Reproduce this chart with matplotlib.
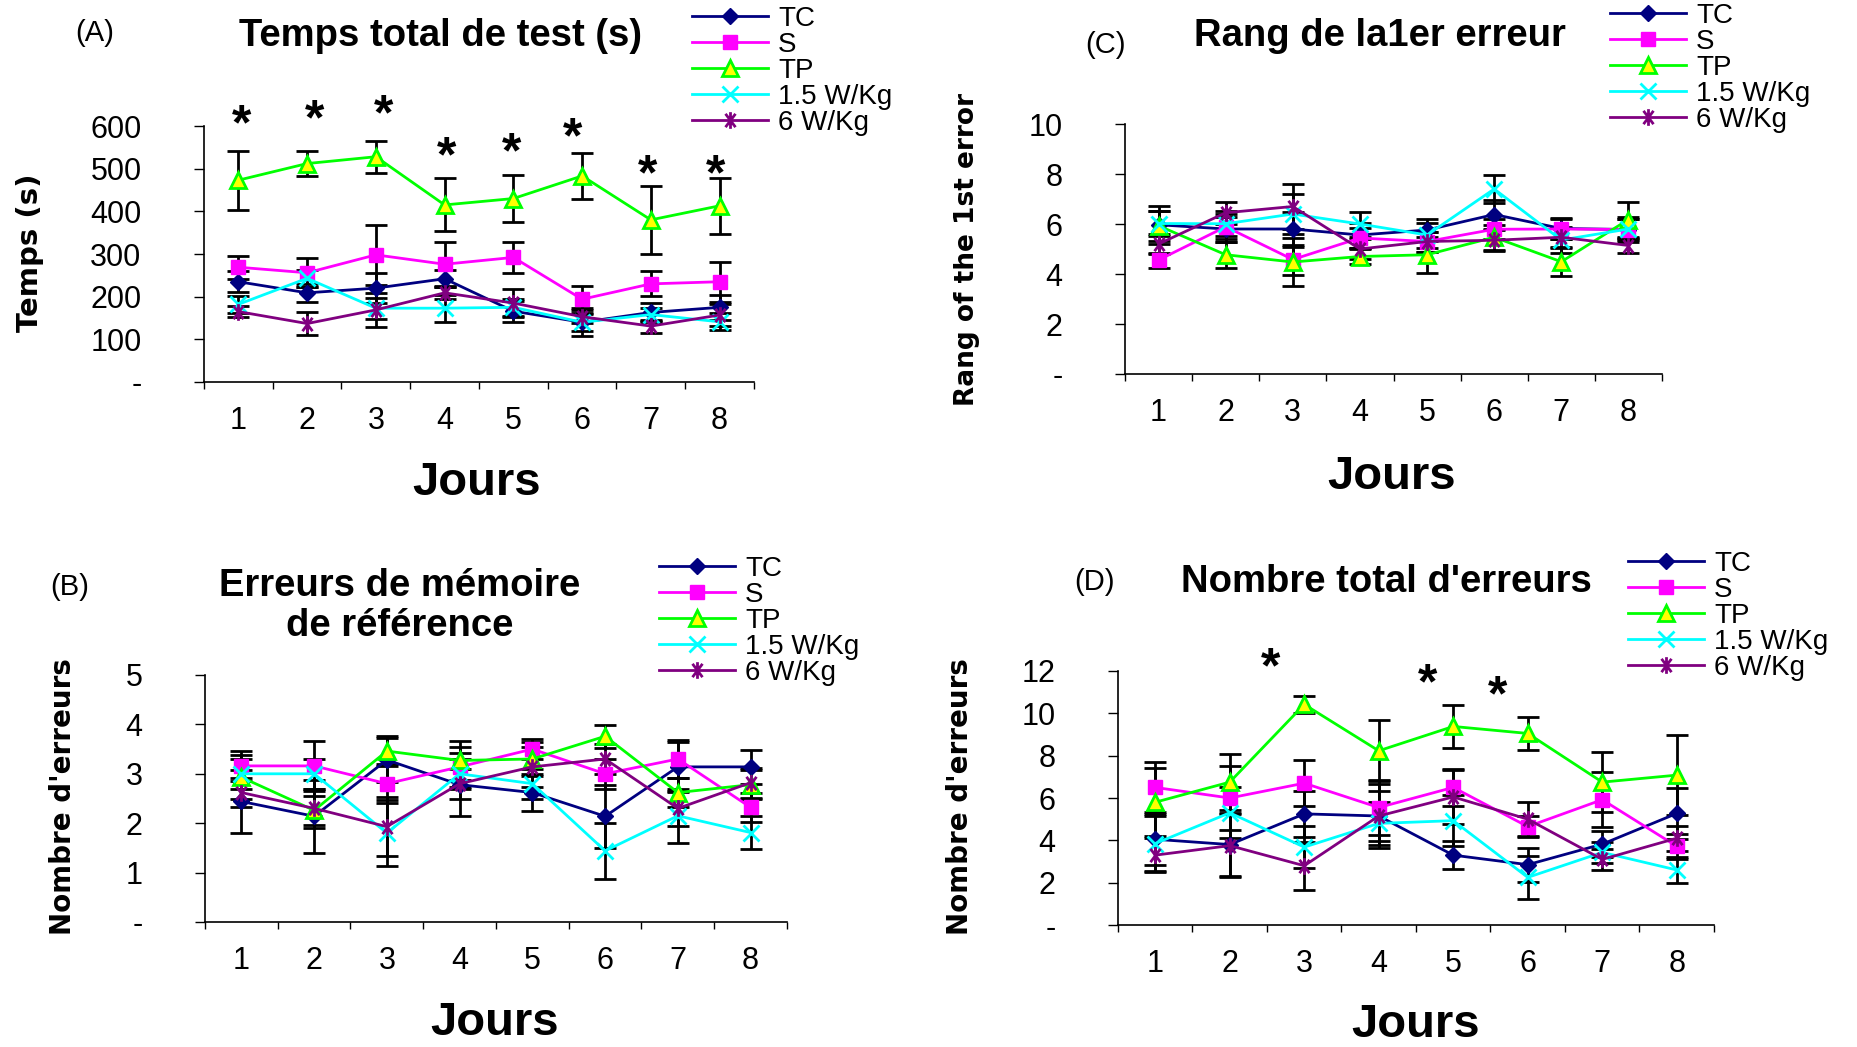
import numpy as np
import matplotlib.pyplot as plt
from matplotlib.path import Path
from matplotlib.ticker import FixedLocator, FuncFormatter

W, H = 1858, 1047

days = [1, 2, 3, 4, 5, 6, 7, 8]
groups = ['TC', 'S', 'TP', '1.5 W/Kg', '6 W/Kg']

# (A) Temps total de test (s) -- rows follow `groups`
temps_mean = [
    [235, 209, 220, 242, 166, 140, 163, 175],
    [269, 256, 298, 276, 292, 194, 230, 235],
    [473, 512, 528, 415, 430, 483, 380, 413],
    [182, 243, 173, 173, 175, 140, 158, 141],
    [165, 137, 169, 209, 185, 153, 131, 157],
]
temps_err = [
    [25, 21, 35, 20, 25, 33, 23, 30],
    [27, 34, 70, 53, 37, 32, 29, 47],
    [69, 30, 37, 62, 54, 53, 80, 66],
    [20, 20, 25, 32, 20, 20, 15, 20],
    [12, 28, 39, 15, 32, 15, 15, 25],
]
temps_star_x = [1.05, 2.11, 3.11, 4.03, 4.98, 5.86, 6.95, 7.94]
temps_star_y = [637, 649, 661, 562, 572, 607, 520, 520]

# (B) Erreurs de memoire de reference
memref_mean = [
    [2.44, 2.14, 3.28, 2.78, 2.62, 2.14, 3.14, 3.14],
    [3.16, 3.16, 2.80, 3.14, 3.50, 3.00, 3.30, 2.32],
    [2.93, 2.26, 3.46, 3.27, 3.30, 3.76, 2.62, 2.78],
    [3.00, 3.00, 1.80, 3.00, 2.80, 1.44, 2.15, 1.81],
    [2.62, 2.30, 1.93, 2.80, 3.14, 3.30, 2.30, 2.82],
]
memref_err = [
    [0.64, 0.74, 0.45, 0.64, 0.37, 0.64, 0.50, 0.34],
    [0.30, 0.50, 0.40, 0.40, 0.20, 0.30, 0.38, 0.30],
    [0.45, 0.30, 0.30, 0.40, 0.35, 0.23, 0.30, 0.30],
    [0.30, 0.30, 0.67, 0.30, 0.30, 0.56, 0.55, 0.33],
    [0.30, 0.40, 0.60, 0.30, 0.40, 0.30, 0.35, 0.30],
]

# (C) Rang de la 1er erreur
rang_mean = [
    [5.97, 5.80, 5.80, 5.56, 5.76, 6.38, 5.82, 5.78],
    [4.56, 5.89, 4.58, 5.44, 5.30, 5.79, 5.80, 5.78],
    [5.93, 4.77, 4.48, 4.70, 4.77, 5.47, 4.49, 6.18],
    [6.02, 6.01, 6.40, 6.00, 5.56, 7.40, 5.36, 5.80],
    [5.20, 6.45, 6.70, 5.00, 5.30, 5.35, 5.47, 5.14],
]
rang_err = [
    [0.76, 0.50, 0.70, 0.50, 0.43, 0.60, 0.40, 0.50],
    [0.30, 0.50, 0.60, 0.40, 0.40, 0.40, 0.40, 0.40],
    [0.60, 0.53, 0.95, 0.30, 0.73, 0.50, 0.57, 0.70],
    [0.50, 0.50, 0.80, 0.50, 0.50, 0.57, 0.50, 0.40],
    [0.40, 0.45, 0.90, 0.40, 0.40, 0.44, 0.40, 0.30],
]

# (D) Nombre total d'erreurs
total_mean = [
    [4.05, 3.80, 5.25, 5.15, 3.30, 2.85, 3.82, 5.27],
    [6.50, 6.00, 6.70, 5.55, 6.50, 4.65, 5.92, 3.72],
    [5.80, 6.75, 10.42, 8.23, 9.38, 9.05, 6.75, 7.08],
    [3.85, 5.30, 3.68, 4.80, 4.93, 2.25, 3.43, 2.60],
    [3.30, 3.75, 2.80, 5.15, 6.05, 5.00, 3.10, 4.10],
]
total_err = [
    [1.20, 1.50, 1.10, 1.50, 0.66, 0.80, 0.60, 1.20],
    [1.18, 1.50, 1.10, 1.30, 0.86, 0.50, 1.30, 0.60],
    [1.60, 1.34, 0.40, 1.45, 1.00, 0.76, 1.42, 1.90],
    [1.30, 1.20, 1.00, 1.00, 1.20, 1.00, 0.50, 0.60],
    [0.80, 1.50, 1.13, 1.20, 1.26, 0.80, 0.50, 0.60],
]
total_star_x = [2.55, 4.65, 5.60]
total_star_y = [12.85, 12.10, 11.50]

# excel-like asterisk marker: vertical bar + X
star_path = Path([(0, -1), (0, 1), (-0.6, -0.8), (0.6, 0.8), (-0.6, 0.8), (0.6, -0.8)],
                 [Path.MOVETO, Path.LINETO] * 3)

styles = [
    dict(color='#000080', marker='D', ms=8, mfc='#000080', mec='#000080'),
    dict(color='#FF00FF', marker='s', ms=9.5, mfc='#FF00FF', mec='#FF00FF'),
    dict(color='#00FF00', marker='^', ms=12, mfc='#FFFF00', mec='#00FF00', mew=2),
    dict(color='#00FFFF', marker='x', ms=11, mew=2),
    dict(color='#800080', marker=star_path, ms=12, mew=2),
]

fig = plt.figure(figsize=(W / 100, H / 100), dpi=100)
base = 'Liberation Sans'


def fx(x):
    return x / W


def fy(y):
    return 1 - y / H


def draw_panel(box, means, errs, ymax, ystep, tag, tag_xy, title, title_xy,
               ylabel, ylabel_xy, ylabel_size, jours_xy, legend_xy, stars=None):
    l, t, r, b = box
    ax = fig.add_axes([fx(l), fy(b), (r - l) / W, (b - t) / H])
    for m, e in zip(means, errs):
        ax.errorbar(days, m, yerr=e, fmt='none', ecolor='black', elinewidth=2,
                    capsize=8, capthick=2, zorder=2)
    for g, m, st in zip(groups, means, styles):
        ax.plot(days, m, lw=2, label=g, zorder=3, **st)

    ax.set_xlim(0.5, 8.5)
    ax.set_ylim(0, ymax)
    for s in ['top', 'right']:
        ax.spines[s].set_visible(False)
    for s in ['left', 'bottom']:
        ax.spines[s].set_linewidth(1.2)

    ax.xaxis.set_major_locator(FixedLocator(days))
    ax.xaxis.set_minor_locator(FixedLocator(np.arange(0.5, 9, 1)))
    ax.tick_params(axis='x', which='major', length=0, pad=17, labelsize=22)
    ax.tick_params(axis='x', which='minor', length=5, width=1, direction='out')
    ax.set_yticks(np.arange(0, ymax + ystep / 2, ystep))
    ax.yaxis.set_major_formatter(FuncFormatter(lambda v, p: '-' if v == 0 else f'{v:g}'))
    ax.tick_params(axis='y', length=7, width=1, pad=38, labelsize=22)
    for lab in ax.get_xticklabels() + ax.get_yticklabels():
        lab.set_fontfamily(base)

    if stars is not None:
        for sx, sy in zip(*stars):
            ax.annotate('*', (sx, sy), xytext=(0, -21), textcoords='offset points',
                        ha='center', va='baseline', fontsize=36, fontweight='bold',
                        fontfamily=base, annotation_clip=False)

    fig.text(fx(tag_xy[0]), fy(tag_xy[1]), tag, ha='center', va='center',
             fontsize=21, fontfamily=base)
    fig.text(fx(title_xy[0]), fy(title_xy[1]), title, ha='center', va='center',
             fontsize=27.5, fontweight='bold', fontfamily=base, linespacing=1.15)
    fig.text(fx(ylabel_xy[0]), fy(ylabel_xy[1]), ylabel, rotation=90, ha='center',
             va='center', fontsize=ylabel_size, fontweight='bold', fontfamily='DejaVu Sans')
    fig.text(fx(jours_xy[0]), fy(jours_xy[1]), 'Jours', ha='center', va='center',
             fontsize=34, fontweight='bold', fontfamily=base)

    ax.legend(loc='upper left', bbox_to_anchor=(fx(legend_xy[0]), fy(legend_xy[1])),
              bbox_transform=fig.transFigure, frameon=False, borderpad=0,
              borderaxespad=0, handlelength=2.75, handletextpad=0.35,
              labelspacing=0.0, prop=dict(family=base, size=20))
    return ax


draw_panel((204, 126, 754, 382), temps_mean, temps_err, 600, 100,
           '(A)', (95, 33), 'Temps total de test (s)', (441, 36),
           'Temps (s)', (30, 253), 21, (477, 483), (692, 6),
           stars=(temps_star_x, temps_star_y))

draw_panel((1125, 124, 1662, 374), rang_mean, rang_err, 10, 2,
           '(C)', (1106, 45), 'Rang de la1er erreur', (1380, 36),
           'Rang of the 1st error', (967, 250), 19, (1392, 477), (1610, 3))

draw_panel((205, 675, 787, 922), memref_mean, memref_err, 5, 1,
           '(B)', (70, 587), 'Erreurs de mémoire\nde référence', (400, 606),
           "Nombre d'erreurs", (63, 797), 20, (495, 1023), (659, 556))

draw_panel((1118, 671, 1714, 925), total_mean, total_err, 12, 2,
           '(D)', (1094, 582), "Nombre total d'erreurs", (1386, 582),
           "Nombre d'erreurs", (960, 797), 20, (1416, 1025), (1628, 551),
           stars=(total_star_x, total_star_y))

fig.savefig('out.png', dpi=100)
